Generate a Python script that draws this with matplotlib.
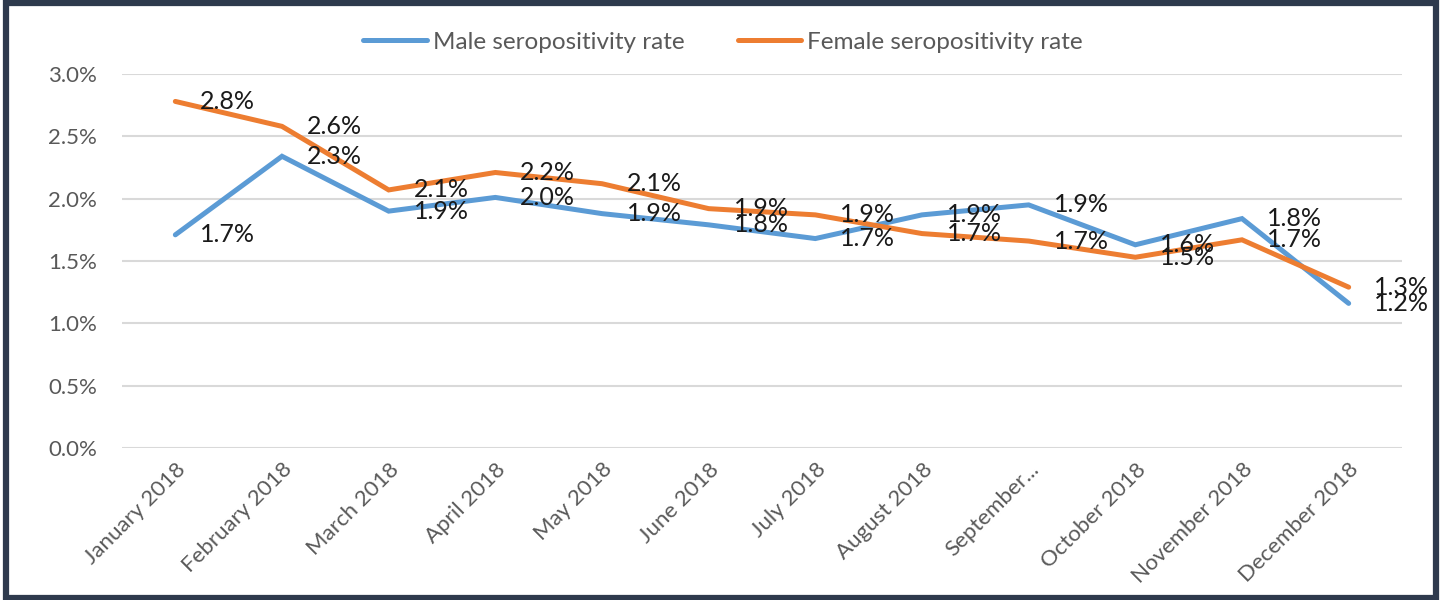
import matplotlib
matplotlib.use('Agg')
import matplotlib.pyplot as plt
from matplotlib.patches import Rectangle
from matplotlib.ticker import FuncFormatter, MultipleLocator

plt.rcParams['font.family'] = ['Lato', 'DejaVu Sans']

months = ['January 2018', 'February 2018', 'March 2018', 'April 2018', 'May 2018',
          'June 2018', 'July 2018', 'August 2018', 'September...', 'October 2018',
          'November 2018', 'December 2018']
male_rate = [1.71, 2.34, 1.90, 2.01, 1.88, 1.79, 1.68, 1.87, 1.95, 1.63, 1.84, 1.16]
female_rate = [2.78, 2.58, 2.07, 2.21, 2.12, 1.92, 1.87, 1.72, 1.66, 1.53, 1.67, 1.29]

BLUE = '#5B9BD5'
ORANGE = '#ED7D31'

fig = plt.figure(figsize=(14.42, 6.0), dpi=100)
ax = fig.add_axes([122 / 1442, 1 - 448 / 600, 1280 / 1442, 374 / 600])

x = list(range(len(months)))
l1, = ax.plot(x, male_rate, color=BLUE, lw=3.6, solid_capstyle='round',
              solid_joinstyle='miter', label='Male seropositivity rate')
l2, = ax.plot(x, female_rate, color=ORANGE, lw=3.6, solid_capstyle='round',
              solid_joinstyle='miter', label='Female seropositivity rate')

# data labels to the right of each point (Excel style)
for series in (male_rate, female_rate):
    for i, v in zip(x, series):
        ax.annotate(f'{v:.1f}%', (i, v), xytext=(18, 0), textcoords='offset points',
                    ha='left', va='center', fontsize=18, color='#1a1a1a')

ax.set_xlim(-0.5, len(months) - 0.5)
ax.set_ylim(0, 3.0)
ax.yaxis.set_major_locator(MultipleLocator(0.5))
ax.yaxis.set_major_formatter(FuncFormatter(lambda v, p: f'{v:.1f}%'))
ax.set_xticks(x)
ax.set_xticklabels(months, rotation=45, ha='right', rotation_mode='anchor')
ax.tick_params(axis='both', length=0, labelsize=16, labelcolor='#595959')
ax.tick_params(axis='y', pad=18)
ax.tick_params(axis='x', pad=8)
ax.grid(axis='y', color='#d9d9d9', lw=1.5)
ax.set_axisbelow(True)
for s in ax.spines.values():
    s.set_visible(False)

fig.legend(handles=[l1, l2], loc='center', bbox_to_anchor=(723 / 1442, 1 - 42 / 600),
           ncol=2, frameon=False, fontsize=17.5, handlelength=2.6, handletextpad=0.25,
           columnspacing=2.2, labelcolor='#595959')

# dark outer frame
fig.patches.append(Rectangle((6 / 1442, 2.5 / 600), 1430 / 1442, 595 / 600,
                             transform=fig.transFigure, fill=False,
                             edgecolor='#2E3A4D', lw=4.5, zorder=10))

fig.savefig('out.png', dpi=100, facecolor='white')
